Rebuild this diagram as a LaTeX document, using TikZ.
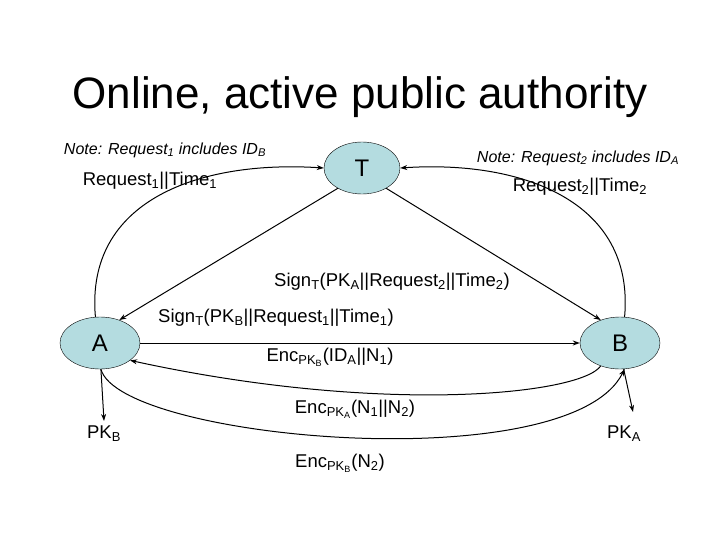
\documentclass[tikz,border=0pt]{standalone}
\usepackage{fontspec}
\setmainfont{Liberation Sans}
\usetikzlibrary{shapes.geometric,arrows.meta}
\definecolor{entfill}{HTML}{B4DCE0}
\begin{document}
\begin{tikzpicture}[x=1pt,y=-1pt,
  ent/.style={ellipse,draw=black,fill=entfill,minimum width=80pt,minimum height=52pt,inner sep=0pt,font=\fontsize{24}{24}\selectfont},
  arr/.style={-{Stealth[length=7pt,width=5pt]},line width=1pt},
  lbl/.style={font=\fontsize{18.5}{21}\selectfont,inner sep=0pt},
  note/.style={font=\fontsize{16}{18}\selectfont\itshape,inner sep=0pt}]
\useasboundingbox (0,0) rectangle (720,540);
\node[font=\fontsize{44}{48}\selectfont,inner sep=0pt] (title) at (360,97) {Online, active public authority};
\node[ent,minimum width=76pt] (T) at (362,168) {T};
\node[ent] (A) at (100,343) {A};
\node[ent] (B) at (620,343) {B};
\node[lbl] (pkb) at (104,434) {PK\textsubscript{B}};
\node[lbl] (pka) at (624,434) {PK\textsubscript{A}};
\coordinate (pkbt) at (104,421);
\coordinate (pkat) at (633,412);
\node[note] (n1) at (165,150) {Note: Request\textsubscript{1} includes ID\textsubscript{B}};
\node[lbl] (r1) at (150,181) {Request\textsubscript{1}||Time\textsubscript{1}};
\node[note] (n2) at (578,158) {Note: Request\textsubscript{2} includes ID\textsubscript{A}};
\node[lbl] (r2) at (580,187) {Request\textsubscript{2}||Time\textsubscript{2}};
\node[lbl] (s2) at (392,282) {Sign\textsubscript{T}(PK\textsubscript{A}||Request\textsubscript{2}||Time\textsubscript{2})};
\node[lbl] (s1) at (276,318) {Sign\textsubscript{T}(PK\textsubscript{B}||Request\textsubscript{1}||Time\textsubscript{1})};
\node[lbl] (e1) at (330,357) {Enc\textsubscript{PK\textsubscript{B}}(ID\textsubscript{A}||N\textsubscript{1})};
\node[lbl] (e2) at (355,409) {Enc\textsubscript{PK\textsubscript{A}}(N\textsubscript{1}||N\textsubscript{2})};
\node[lbl] (e3) at (340,463) {Enc\textsubscript{PK\textsubscript{B}}(N\textsubscript{2})};
% arcs to T
\draw[arr] (A.100) .. controls (85,200) and (200,160) .. (T.west);
\draw[arr] (B.80) .. controls (635,200) and (520,160) .. (T.east);
% T to A, B
\draw[arr] (T.220) -- (A.50);
\draw[arr] (T.320) -- (B.130);
% A-B messages
\draw[arr] (A.east) -- (B.west);
\draw[arr] (B.230) .. controls (580,395) and (380,415) .. (A.330);
\draw[arr] (A.272) .. controls (120,440) and (570,480) .. (B.280);
% PK
\draw[arr] (A.272) -- (pkbt);
\draw[arr] (B.278) -- (pkat);
\end{tikzpicture}
\end{document}
